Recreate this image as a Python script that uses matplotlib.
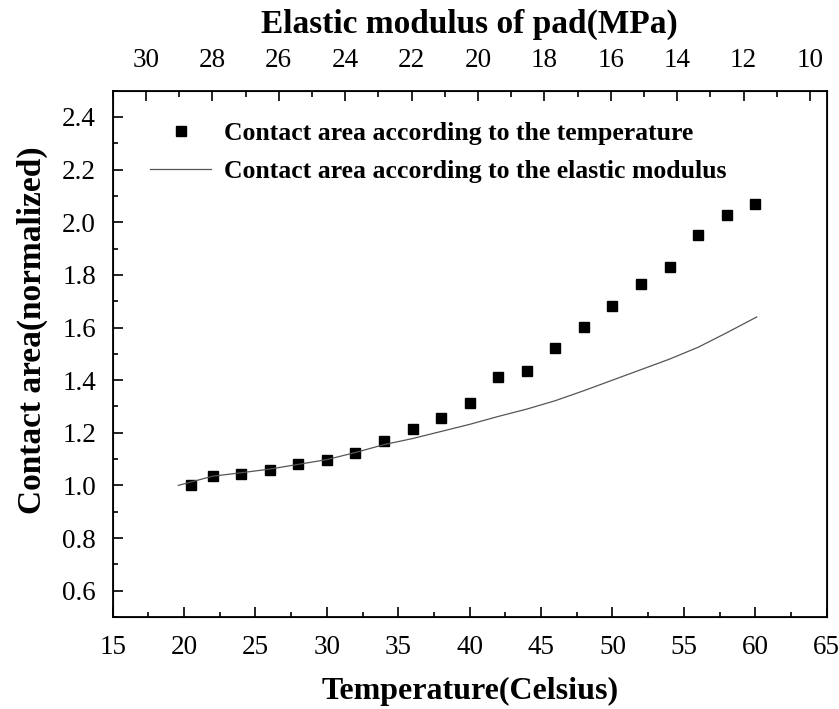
import numpy as np
import matplotlib.pyplot as plt
from matplotlib.ticker import MultipleLocator

# measured contact area (squares) against temperature
temp_pts = [20.5, 22, 24, 26, 28, 30, 32, 34, 36, 38, 40,
            42, 44, 46, 48, 50, 52, 54, 56, 58, 60]
area_pts = [1.00, 1.037, 1.045, 1.060, 1.080, 1.097, 1.122, 1.168, 1.214, 1.258, 1.315,
            1.412, 1.434, 1.522, 1.601, 1.680, 1.764, 1.829, 1.952, 2.027, 2.071]

# contact area predicted from the elastic modulus (line)
temp_line = [19.6, 22, 24, 26, 28, 30, 32, 34, 36, 38, 40,
             42, 44, 46, 48, 50, 52, 54, 56, 58, 60.1]
area_line = [1.00, 1.035, 1.048, 1.062, 1.080, 1.098, 1.125, 1.155, 1.178, 1.205, 1.232,
             1.262, 1.290, 1.322, 1.360, 1.400, 1.440, 1.480, 1.525, 1.580, 1.640]

temp_lim = (15, 65)
modulus_lim = (31, 9.5)
area_lim = (0.5, 2.5)

plt.rcParams['font.family'] = ['Liberation Serif', 'DejaVu Serif']

fig = plt.figure(figsize=(8.39, 7.09), dpi=100)
ax = fig.add_axes([0.1343, 0.1298, 0.8510, 0.7423])

ax.plot(temp_pts, area_pts, linestyle='none', marker='s', markersize=7.5,
        color='black', label='Contact area according to the temperature')
ax.plot(temp_line, area_line, color='#555555', linewidth=0.9,
        label='Contact area according to the elastic modulus')

ax.set_xlim(*temp_lim)
ax.set_ylim(*area_lim)
ax.xaxis.set_major_locator(MultipleLocator(5))
ax.xaxis.set_minor_locator(MultipleLocator(2.5))
ax.yaxis.set_minor_locator(MultipleLocator(0.1))
ax.set_yticks(np.arange(0.6, 2.41, 0.2))
ax.tick_params(which='both', direction='in', top=False, right=False,
               labelsize=19.5, width=1.2)
ax.tick_params(which='major', length=7)
ax.tick_params(axis='x', which='major', pad=13)
ax.tick_params(axis='y', which='major', pad=12)
ax.tick_params(which='minor', length=3.5)
for s in ax.spines.values():
    s.set_linewidth(1.3)

ax.set_xlabel('Temperature(Celsius)', fontsize=23, fontweight='bold', labelpad=12)
ax.set_ylabel('Contact area(normalized)', fontsize=24, fontweight='bold')
ax.yaxis.set_label_coords(-0.09, 0.545)

# top axis: elastic modulus of the pad
top = ax.twiny()
top.set_xlim(*modulus_lim)
top.xaxis.set_major_locator(MultipleLocator(2))
top.xaxis.set_minor_locator(MultipleLocator(1))
top.tick_params(which='both', direction='in', labelsize=19.5, width=1.2)
top.tick_params(which='major', length=7, pad=13)
top.tick_params(which='minor', length=4)
top.set_xlabel('Elastic modulus of pad(MPa)', fontsize=24, fontweight='bold', labelpad=11)

ax.legend(loc='upper left', bbox_to_anchor=(0.052, 0.941), frameon=False,
          borderpad=0, borderaxespad=0, handlelength=2.4, handletextpad=0.48,
          labelspacing=0.6, prop={'weight': 'bold', 'size': 18.5})

fig.savefig('out.png', dpi=100)
